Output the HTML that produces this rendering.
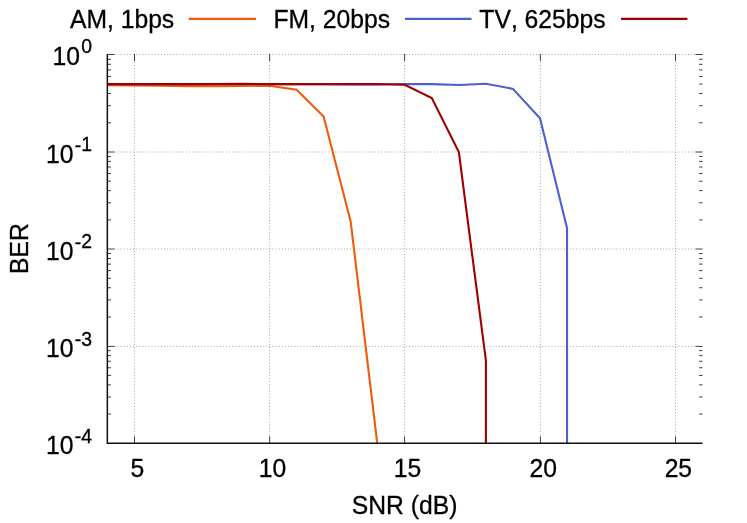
<!DOCTYPE html><html><head><meta charset="utf-8"><title>BER vs SNR</title><style>html,body{margin:0;padding:0;background:#fff}svg{display:block}text{font-family:"Liberation Sans",sans-serif;fill:#000;filter:grayscale(1);font-kerning:none;stroke:#000;stroke-width:0.3px}</style></head><body>
<svg width="747" height="523" viewBox="0 0 747 523">
<rect width="747" height="523" fill="#fff"/>
<defs><clipPath id="c"><rect x="106.45" y="52.90" width="597.10" height="391.10"/></clipPath></defs>
<g stroke="#a4a4a4" stroke-width="1" stroke-dasharray="1,2.1" fill="none"><line x1="114.45" y1="54.50" x2="695.55" y2="54.50"/><line x1="114.45" y1="152.00" x2="695.55" y2="152.00"/><line x1="114.45" y1="249.00" x2="695.55" y2="249.00"/><line x1="114.45" y1="346.40" x2="695.55" y2="346.40"/><line x1="134.50" y1="61.90" x2="134.50" y2="436.30"/><line x1="269.60" y1="61.90" x2="269.60" y2="436.30"/><line x1="404.60" y1="61.90" x2="404.60" y2="436.30"/><line x1="540.40" y1="61.90" x2="540.40" y2="436.30"/><line x1="675.50" y1="61.90" x2="675.50" y2="436.30"/></g>
<g stroke="#000" stroke-width="0.75" fill="none"><line x1="134.50" y1="443.30" x2="134.50" y2="436.30"/><line x1="134.50" y1="54.00" x2="134.50" y2="61.00"/><line x1="269.60" y1="443.30" x2="269.60" y2="436.30"/><line x1="269.60" y1="54.00" x2="269.60" y2="61.00"/><line x1="404.60" y1="443.30" x2="404.60" y2="436.30"/><line x1="404.60" y1="54.00" x2="404.60" y2="61.00"/><line x1="540.40" y1="443.30" x2="540.40" y2="436.30"/><line x1="540.40" y1="54.00" x2="540.40" y2="61.00"/><line x1="675.50" y1="443.30" x2="675.50" y2="436.30"/><line x1="675.50" y1="54.00" x2="675.50" y2="61.00"/><line x1="107.45" y1="54.50" x2="114.45" y2="54.50"/><line x1="702.55" y1="54.50" x2="695.55" y2="54.50"/><line x1="107.45" y1="122.77" x2="110.95" y2="122.77"/><line x1="702.55" y1="122.77" x2="699.05" y2="122.77"/><line x1="107.45" y1="105.67" x2="110.95" y2="105.67"/><line x1="702.55" y1="105.67" x2="699.05" y2="105.67"/><line x1="107.45" y1="93.54" x2="110.95" y2="93.54"/><line x1="702.55" y1="93.54" x2="699.05" y2="93.54"/><line x1="107.45" y1="84.13" x2="110.95" y2="84.13"/><line x1="702.55" y1="84.13" x2="699.05" y2="84.13"/><line x1="107.45" y1="76.44" x2="110.95" y2="76.44"/><line x1="702.55" y1="76.44" x2="699.05" y2="76.44"/><line x1="107.45" y1="69.94" x2="110.95" y2="69.94"/><line x1="702.55" y1="69.94" x2="699.05" y2="69.94"/><line x1="107.45" y1="64.31" x2="110.95" y2="64.31"/><line x1="702.55" y1="64.31" x2="699.05" y2="64.31"/><line x1="107.45" y1="59.34" x2="110.95" y2="59.34"/><line x1="702.55" y1="59.34" x2="699.05" y2="59.34"/><line x1="107.45" y1="152.00" x2="114.45" y2="152.00"/><line x1="702.55" y1="152.00" x2="695.55" y2="152.00"/><line x1="107.45" y1="219.87" x2="110.95" y2="219.87"/><line x1="702.55" y1="219.87" x2="699.05" y2="219.87"/><line x1="107.45" y1="202.77" x2="110.95" y2="202.77"/><line x1="702.55" y1="202.77" x2="699.05" y2="202.77"/><line x1="107.45" y1="190.64" x2="110.95" y2="190.64"/><line x1="702.55" y1="190.64" x2="699.05" y2="190.64"/><line x1="107.45" y1="181.23" x2="110.95" y2="181.23"/><line x1="702.55" y1="181.23" x2="699.05" y2="181.23"/><line x1="107.45" y1="173.54" x2="110.95" y2="173.54"/><line x1="702.55" y1="173.54" x2="699.05" y2="173.54"/><line x1="107.45" y1="167.04" x2="110.95" y2="167.04"/><line x1="702.55" y1="167.04" x2="699.05" y2="167.04"/><line x1="107.45" y1="161.41" x2="110.95" y2="161.41"/><line x1="702.55" y1="161.41" x2="699.05" y2="161.41"/><line x1="107.45" y1="156.44" x2="110.95" y2="156.44"/><line x1="702.55" y1="156.44" x2="699.05" y2="156.44"/><line x1="107.45" y1="249.00" x2="114.45" y2="249.00"/><line x1="702.55" y1="249.00" x2="695.55" y2="249.00"/><line x1="107.45" y1="316.97" x2="110.95" y2="316.97"/><line x1="702.55" y1="316.97" x2="699.05" y2="316.97"/><line x1="107.45" y1="299.87" x2="110.95" y2="299.87"/><line x1="702.55" y1="299.87" x2="699.05" y2="299.87"/><line x1="107.45" y1="287.74" x2="110.95" y2="287.74"/><line x1="702.55" y1="287.74" x2="699.05" y2="287.74"/><line x1="107.45" y1="278.33" x2="110.95" y2="278.33"/><line x1="702.55" y1="278.33" x2="699.05" y2="278.33"/><line x1="107.45" y1="270.64" x2="110.95" y2="270.64"/><line x1="702.55" y1="270.64" x2="699.05" y2="270.64"/><line x1="107.45" y1="264.14" x2="110.95" y2="264.14"/><line x1="702.55" y1="264.14" x2="699.05" y2="264.14"/><line x1="107.45" y1="258.51" x2="110.95" y2="258.51"/><line x1="702.55" y1="258.51" x2="699.05" y2="258.51"/><line x1="107.45" y1="253.54" x2="110.95" y2="253.54"/><line x1="702.55" y1="253.54" x2="699.05" y2="253.54"/><line x1="107.45" y1="346.40" x2="114.45" y2="346.40"/><line x1="702.55" y1="346.40" x2="695.55" y2="346.40"/><line x1="107.45" y1="414.07" x2="110.95" y2="414.07"/><line x1="702.55" y1="414.07" x2="699.05" y2="414.07"/><line x1="107.45" y1="396.97" x2="110.95" y2="396.97"/><line x1="702.55" y1="396.97" x2="699.05" y2="396.97"/><line x1="107.45" y1="384.84" x2="110.95" y2="384.84"/><line x1="702.55" y1="384.84" x2="699.05" y2="384.84"/><line x1="107.45" y1="375.43" x2="110.95" y2="375.43"/><line x1="702.55" y1="375.43" x2="699.05" y2="375.43"/><line x1="107.45" y1="367.74" x2="110.95" y2="367.74"/><line x1="702.55" y1="367.74" x2="699.05" y2="367.74"/><line x1="107.45" y1="361.24" x2="110.95" y2="361.24"/><line x1="702.55" y1="361.24" x2="699.05" y2="361.24"/><line x1="107.45" y1="355.61" x2="110.95" y2="355.61"/><line x1="702.55" y1="355.61" x2="699.05" y2="355.61"/><line x1="107.45" y1="350.64" x2="110.95" y2="350.64"/><line x1="702.55" y1="350.64" x2="699.05" y2="350.64"/></g>
<polyline points="107.20,85.15 134.25,85.33 161.30,85.68 188.35,86.12 215.40,86.12 242.45,85.94 269.50,85.68 296.55,89.71 323.60,116.51 350.65,221.37 377.70,447.05" fill="none" stroke="#f05a0a" stroke-width="2.1" stroke-linejoin="miter" clip-path="url(#c)"/>
<polyline points="107.20,84.13 134.25,84.13 161.30,84.13 188.35,84.13 215.40,84.13 242.45,84.13 269.50,84.13 296.55,84.13 323.60,84.13 350.65,84.38 377.70,84.47 404.75,84.13 431.80,84.13 458.85,84.98 485.90,83.71 512.95,88.86 540.00,118.18 567.05,228.24 567.05,472.53" fill="none" stroke="#4c60d0" stroke-width="2.1" stroke-linejoin="miter" clip-path="url(#c)"/>
<polyline points="107.20,84.13 134.25,84.13 161.30,84.13 188.35,84.13 215.40,83.96 242.45,83.88 269.50,84.13 296.55,84.13 323.60,84.13 350.65,84.13 377.70,83.96 404.75,84.72 431.80,98.10 458.85,152.00 485.90,360.64 485.90,472.53" fill="none" stroke="#a00000" stroke-width="2.1" stroke-linejoin="miter" clip-path="url(#c)"/>
<path d="M107.35,54.00 L107.35,443.30 L702.55,443.30" fill="none" stroke="#111" stroke-width="1.5" stroke-linejoin="miter"/>
<text transform="translate(92,65.40) scale(1,1.06)" text-anchor="end" font-size="24.7">10<tspan font-size="19.4" dx="1.2" dy="-11.51">0</tspan></text>
<text transform="translate(92,162.90) scale(1,1.06)" text-anchor="end" font-size="24.7">10<tspan font-size="19.4" dx="1.2" dy="-10.28">-</tspan><tspan font-size="19.4" dy="-0.75">1</tspan></text>
<text transform="translate(92,259.90) scale(1,1.06)" text-anchor="end" font-size="24.7">10<tspan font-size="19.4" dx="1.2" dy="-10.28">-</tspan><tspan font-size="19.4" dy="-0.75">2</tspan></text>
<text transform="translate(92,357.30) scale(1,1.06)" text-anchor="end" font-size="24.7">10<tspan font-size="19.4" dx="1.2" dy="-10.28">-</tspan><tspan font-size="19.4" dy="-0.75">3</tspan></text>
<text transform="translate(92,454.20) scale(1,1.06)" text-anchor="end" font-size="24.7">10<tspan font-size="19.4" dx="1.2" dy="-10.28">-</tspan><tspan font-size="19.4" dy="-0.75">4</tspan></text>
<text transform="translate(137.35,476.7) scale(1,1.06)" text-anchor="middle" font-size="24.7">5</text>
<text transform="translate(272.45,476.7) scale(1,1.06)" text-anchor="middle" font-size="24.7">10</text>
<text transform="translate(407.45,476.7) scale(1,1.06)" text-anchor="middle" font-size="24.7">15</text>
<text transform="translate(543.25,476.7) scale(1,1.06)" text-anchor="middle" font-size="24.7">20</text>
<text transform="translate(678.35,476.7) scale(1,1.06)" text-anchor="middle" font-size="24.7">25</text>
<text transform="translate(404.6,513.7) scale(1,1.06)" text-anchor="middle" font-size="24.7">SNR (dB)</text>
<text transform="translate(28.1,248.6) rotate(-90) scale(1,1.06)" text-anchor="middle" font-size="24.7">BER</text>
<text transform="translate(174.2,27.5) scale(1,1.06)" text-anchor="end" font-size="24.7">AM, 1bps</text>
<text transform="translate(390.1,27.5) scale(1,1.06)" text-anchor="end" font-size="24.7">FM, 20bps</text>
<text transform="translate(605.6,27.5) scale(1,1.06)" text-anchor="end" font-size="24.7">TV, 625bps</text>
<line x1="188.7" y1="18.9" x2="256.0" y2="18.9" stroke="#f05a0a" stroke-width="2.1"/>
<line x1="405.0" y1="18.9" x2="471.5" y2="18.9" stroke="#4c60d0" stroke-width="2.1"/>
<line x1="621.0" y1="18.9" x2="687.4" y2="18.9" stroke="#a00000" stroke-width="2.1"/>
</svg></body></html>
